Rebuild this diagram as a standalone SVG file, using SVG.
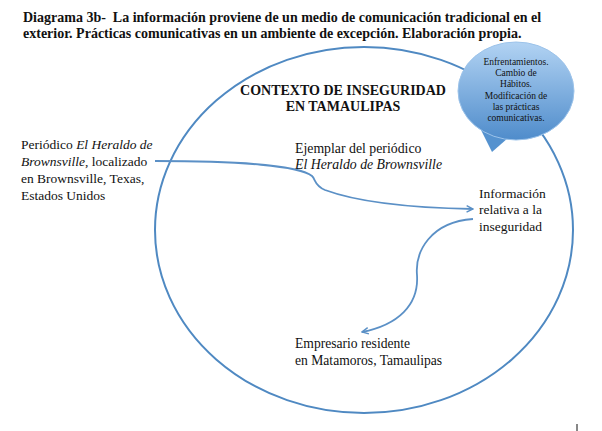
<svg xmlns="http://www.w3.org/2000/svg" width="602" height="431" viewBox="0 0 602 431">
<defs>
  <linearGradient id="bg" x1="0" y1="0" x2="0" y2="1">
    <stop offset="0" stop-color="#b2d3f3"/>
    <stop offset="1" stop-color="#4f8ccb"/>
  </linearGradient>
  <marker id="ah" viewBox="0 0 10 10" refX="9" refY="5" markerWidth="8" markerHeight="8" markerUnits="userSpaceOnUse" orient="auto">
    <polyline points="1,1 9,5 1,9" fill="none" stroke="#5b90c6" stroke-width="1.8"/>
  </marker>
</defs>
<rect width="602" height="431" fill="#fff"/>

<g id="title" fill="#111" font-size="14" font-weight="bold">
  <text font-family="Liberation Serif" x="23" y="22" xml:space="preserve">Diagrama 3b-  La información proviene de un medio de comunicación tradicional en el</text>
  <text font-family="Liberation Serif" x="23" y="38">exterior. Prácticas comunicativas en un ambiente de excepción. Elaboración propia.</text>
</g>

<g id="contexto">
  <ellipse cx="364" cy="230" rx="209" ry="183" fill="none" stroke="#4f89c2" stroke-width="2"/>
  <g fill="#111" font-size="14" font-weight="bold" text-anchor="middle">
    <text font-family="Liberation Serif" x="343" y="95">CONTEXTO DE INSEGURIDAD</text>
    <text font-family="Liberation Serif" x="343" y="111">EN TAMAULIPAS</text>
  </g>
</g>

<g id="bubble">
  <path d="M480,128 L492,152 L508,138 Z" fill="#5592cf"/>
  <ellipse cx="516" cy="91" rx="58" ry="49" fill="url(#bg)" stroke="#9cc3ea" stroke-width="1"/>
  <g fill="#111" font-size="9.5" text-anchor="middle">
    <text font-family="Liberation Serif" x="516" y="65">Enfrentamientos.</text>
    <text font-family="Liberation Serif" x="516" y="76">Cambio de</text>
    <text font-family="Liberation Serif" x="516" y="87">Hábitos.</text>
    <text font-family="Liberation Serif" x="516" y="99">Modificación de</text>
    <text font-family="Liberation Serif" x="516" y="110">las prácticas</text>
    <text font-family="Liberation Serif" x="516" y="121">comunicativas.</text>
  </g>
</g>

<g id="periodico" fill="#111" font-size="13.5">
  <text font-family="Liberation Serif" x="21" y="149">Periódico <tspan font-style="italic">El Heraldo de</tspan></text>
  <text font-family="Liberation Serif" x="21" y="166"><tspan font-style="italic">Brownsville</tspan>, localizado</text>
  <text font-family="Liberation Serif" x="21" y="183">en Brownsville, Texas,</text>
  <text font-family="Liberation Serif" x="21" y="200">Estados Unidos</text>
</g>

<g id="ejemplar" fill="#111" font-size="13.8">
  <text font-family="Liberation Serif" x="295" y="153">Ejemplar del periódico</text>
  <text font-family="Liberation Serif" x="295" y="169" font-style="italic">El Heraldo de Brownsville</text>
</g>

<g id="informacion" fill="#111" font-size="13.5">
  <text font-family="Liberation Serif" x="479" y="198">Información</text>
  <text font-family="Liberation Serif" x="479" y="214">relativa a la</text>
  <text font-family="Liberation Serif" x="479" y="231">inseguridad</text>
</g>

<g id="empresario" fill="#111" font-size="13.6">
  <text font-family="Liberation Serif" x="295" y="348">Empresario residente</text>
  <text font-family="Liberation Serif" x="295" y="365">en Matamoros, Tamaulipas</text>
</g>

<g id="connectors" fill="none" stroke="#5b90c6" stroke-width="1.8">
  <path d="M155,161 C240,161 300,166 312,176 C316,180 314,185 325,190 C360,203 420,208 473,209" marker-end="url(#ah)"/>
  <path d="M473,219 C430,222 415,252 417,275 C419,305 398,325 362,332" marker-end="url(#ah)"/>
</g>

<line x1="577" y1="424" x2="577" y2="431" stroke="#111" stroke-width="1"/>
</svg>
